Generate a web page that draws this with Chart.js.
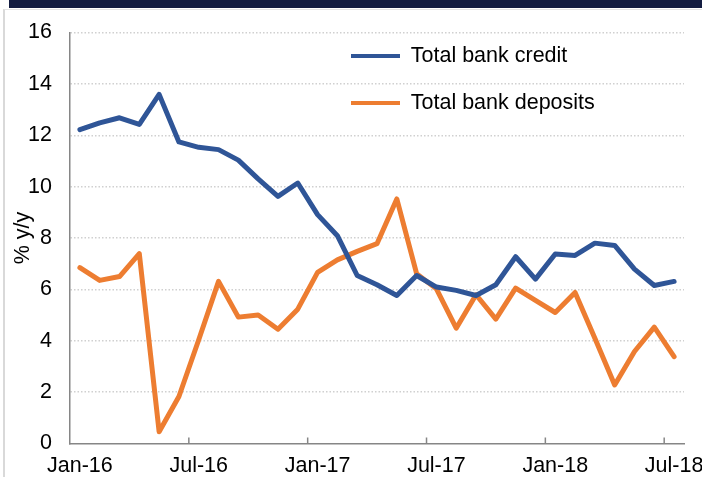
<!DOCTYPE html>
<html>
<head>
<meta charset="utf-8">
<script src="https://cdn.jsdelivr.net/npm/chart.js@4/dist/chart.umd.min.js"></script>
<style>
  html, body { margin: 0; padding: 0; background: #ffffff; }
  #wrap { position: relative; width: 702px; height: 477px; overflow: hidden; }
  #topbar { position: absolute; left: 9px; top: 0; width: 693px; height: 8px; background: #131C41; }
  #frame { position: absolute; left: 3px; top: 9px; width: 720px; height: 480px;
           border-left: 2px solid #D9D9D9; border-top: 1px solid #E4E4E4; }
  #c { position: absolute; left: 0; top: 0; }
</style>
</head>
<body>
<div id="wrap">
  <div id="topbar"></div>
  <div id="frame"></div>
  <canvas id="c" width="702" height="477"></canvas>
</div>
<script>
const months = [
  'Jan-16','Feb-16','Mar-16','Apr-16','May-16','Jun-16','Jul-16','Aug-16','Sep-16','Oct-16','Nov-16','Dec-16',
  'Jan-17','Feb-17','Mar-17','Apr-17','May-17','Jun-17','Jul-17','Aug-17','Sep-17','Oct-17','Nov-17','Dec-17',
  'Jan-18','Feb-18','Mar-18','Apr-18','May-18','Jun-18','Jul-18'
];
const creditLabel = 'Total bank credit';
const depositsLabel = 'Total bank deposits';
const credit = [
  12.22, 12.48, 12.68, 12.42, 13.59, 11.74, 11.53, 11.44, 11.03, 10.30, 9.62, 10.14,
  8.91, 8.09, 6.54, 6.18, 5.76, 6.54, 6.09, 5.96, 5.76, 6.18, 7.27, 6.40,
  7.38, 7.32, 7.80, 7.71, 6.79, 6.15, 6.31
];
const deposits = [
  6.85, 6.35, 6.50, 7.39, 0.46, 1.83, 4.04, 6.31, 4.92, 5.00, 4.45, 5.23,
  6.66, 7.15, 7.48, 7.78, 9.52, 6.61, 6.02, 4.49, 5.79, 4.84, 6.05, 5.57,
  5.10, 5.88, 4.10, 2.28, 3.58, 4.53, 3.38
];
const yTicks = [0, 2, 4, 6, 8, 10, 12, 14, 16];
const yTitle = '% y/y';

const BLUE = '#2F5597';
const ORANGE = '#ED7D31';
const AXIS = '#868686';
const FONT = "'Liberation Sans', Arial, sans-serif";
const FS = 21.5;

const tickMarks = {
  id: 'tickMarks',
  afterDatasetsDraw(chart) {
    const sx = chart.scales.x, ctx = chart.ctx;
    const bottom = chart.chartArea.bottom;
    ctx.save();
    ctx.strokeStyle = AXIS;
    ctx.lineWidth = 1.5;
    for (let i = 6; i < months.length; i += 6) {
      const x = (sx.getPixelForTick(i - 1) + sx.getPixelForTick(i)) / 2;
      ctx.beginPath();
      ctx.moveTo(x, bottom);
      ctx.lineTo(x, bottom - 6);
      ctx.stroke();
    }
    ctx.restore();
  }
};

const legendPlace = {
  id: 'legendPlace',
  afterLayout(chart) {
    const lg = chart.legend;
    if (!lg) return;
    const w = lg.right - lg.left;
    lg.left = 325.5; lg.right = lg.left + w; lg.width = w;
    lg.top = 19.75;
  }
};

new Chart(document.getElementById('c'), {
  type: 'line',
  data: {
    labels: months,
    datasets: [
      { label: creditLabel, data: credit, borderColor: BLUE, backgroundColor: BLUE,
        borderWidth: 5, pointRadius: 0, tension: 0, borderJoinStyle: 'round', borderCapStyle: 'round' },
      { label: depositsLabel, data: deposits, borderColor: ORANGE, backgroundColor: ORANGE,
        borderWidth: 5, pointRadius: 0, tension: 0, borderJoinStyle: 'round', borderCapStyle: 'round' }
    ]
  },
  options: {
    responsive: false,
    animation: false,
    devicePixelRatio: 1,
    layout: { padding: { left: 0, top: 32.5, right: 18, bottom: 0 } },
    plugins: {
      tooltip: { enabled: false },
      legend: {
        position: 'chartArea',
        align: 'start',
        labels: {
          boxWidth: 49,
          boxHeight: 4,
          padding: 25.5,
          color: '#000',
          font: { family: FONT, size: FS },
          generateLabels(chart) {
            const items = Chart.defaults.plugins.legend.labels.generateLabels(chart);
            items.forEach(it => { it.lineWidth = 0; it.fillStyle = it.strokeStyle; });
            return items;
          }
        }
      }
    },
    scales: {
      x: {
        type: 'category',
        offset: true,
        grid: { display: true, drawOnChartArea: false, drawTicks: false, offset: true },
        border: { display: true, color: AXIS, width: 1.5 },
        ticks: {
          autoSkip: false, maxRotation: 0, minRotation: 0, padding: 10,
          color: '#000', font: { family: FONT, size: FS },
          callback: (v, i) => (i % 6 === 0 ? months[i] : '')
        },
        afterFit(scale) { scale.paddingRight = 0; scale.paddingLeft = 0; scale.height = 33.5; }
      },
      y: {
        min: 0, max: 16,
        afterBuildTicks(scale) { scale.ticks = yTicks.map(v => ({ value: v })); },
        grid: {
          drawTicks: false,
          color: ctx => (ctx.tick && ctx.tick.value === 0 ? 'rgba(0,0,0,0)' : '#D0D0D0'),
          lineWidth: 1.5
        },
        border: { display: true, color: AXIS, width: 1.5, dash: [1.5, 2] },
        ticks: { padding: 18, color: '#000', font: { family: FONT, size: FS } },
        title: { display: true, text: yTitle, color: '#000', font: { family: FONT, size: FS }, padding: { top: 10, bottom: 0 } },
        afterFit(scale) { scale.width = 70; }
      }
    }
  },
  plugins: [tickMarks, legendPlace]
});
</script>
</body>
</html>
